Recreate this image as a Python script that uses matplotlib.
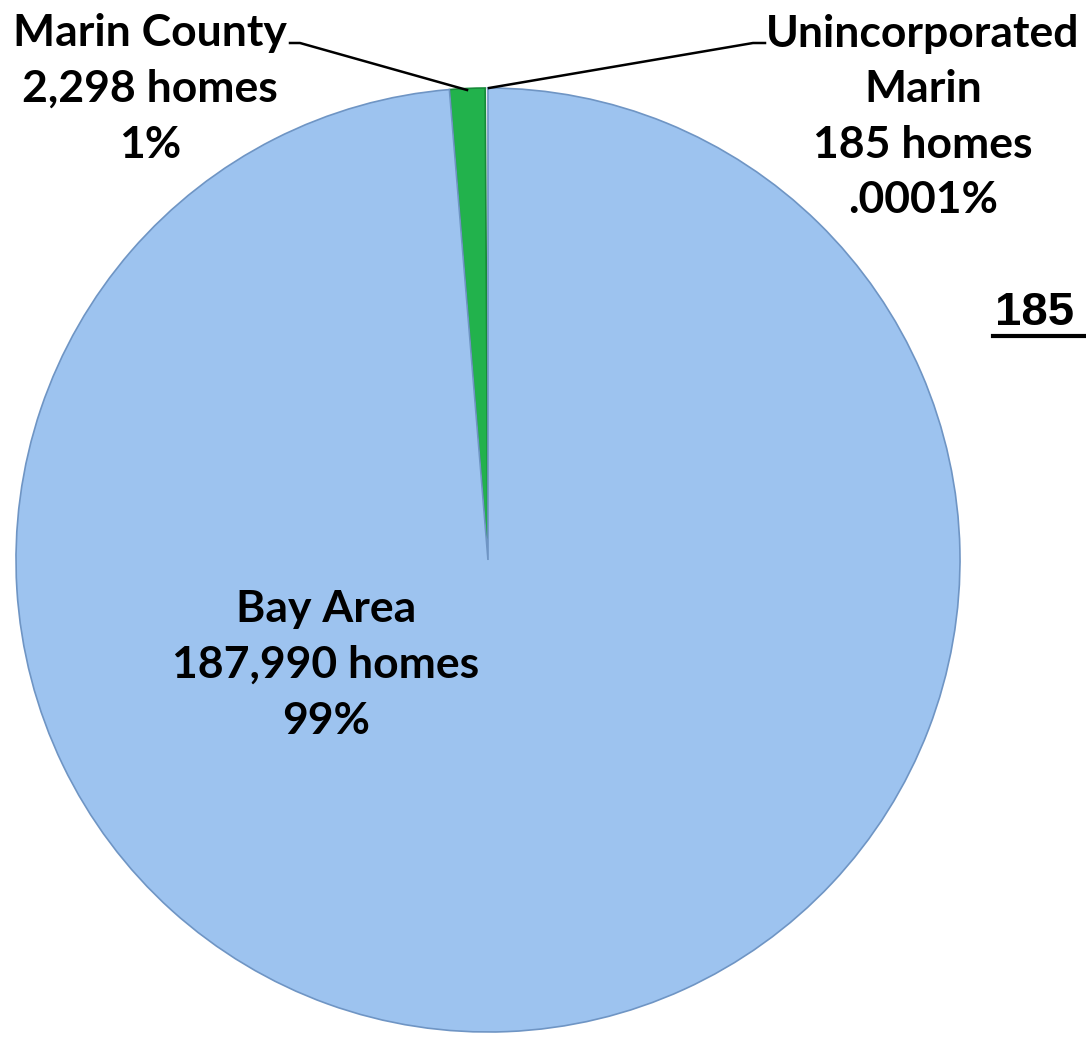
import matplotlib
matplotlib.use('Agg')
import matplotlib.pyplot as plt

# slices, counter-clockwise from 12 o'clock
labels = ['Unincorporated\nMarin\n185 homes\n.0001%',
          'Marin County\n2,298 homes\n1%',
          'Bay Area\n187,990 homes\n99%']
homes = [185, 2298, 187990]
colors = ['#e8eef6', '#22b24c', '#9dc3ef']

W, H = 1086, 1038
fig = plt.figure(figsize=(W / 100, H / 100), dpi=100)
ax = fig.add_axes([0, 0, 1, 1])

# pixel-like coordinates, y up
cx, cy, r = 488, H - 560, 472
wedges, _ = ax.pie(homes, colors=colors, startangle=90, counterclock=True,
                   center=(cx, cy), radius=r,
                   wedgeprops=dict(edgecolor='#6f95c4', linewidth=1.2))
wedges[0].set_edgecolor('#d0d8e4')
wedges[1].set_edgecolor('#178a39')

ax.set_xlim(0, W)
ax.set_ylim(0, H)
ax.set_aspect('equal')
ax.axis('off')

font = dict(family=['Lato', 'DejaVu Sans'], fontweight='bold', fontsize=32,
            color='black', ha='center', va='center', linespacing=1.47)

ax.text(150, H - 89, labels[1], **font)
ax.text(923, H - 117, labels[0], **font)
ax.text(326, H - 665, labels[2], **font)

# leader lines
ax.plot([290, 300, 467], [H - 43, H - 43, H - 90], color='black', lw=1.8)
ax.plot([489, 753, 765], [H - 88, H - 43, H - 43], color='black', lw=1.8)

ax.text(995, H - 313, '185', family=['Liberation Sans', 'DejaVu Sans'],
        fontweight='bold', fontsize=34, color='black', ha='left', va='center')
ax.plot([993, 1086], [H - 336, H - 336], color='black', lw=3)

fig.savefig('out.png', dpi=100)
